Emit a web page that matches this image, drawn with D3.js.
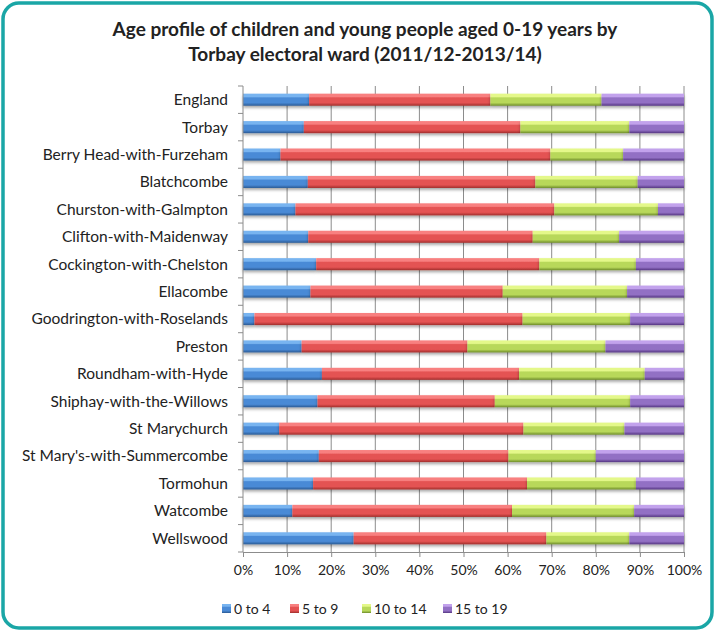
<!DOCTYPE html>
<html>
<head>
<meta charset="utf-8">
<script src="https://cdn.jsdelivr.net/npm/d3@7"></script>
<style>
  body { margin: 0; background: #fff; }
  text { font-family: Lato, "Open Sans", sans-serif; fill: #222; }
</style>
</head>
<body>
<div id="chart"></div>
<script>
// chart data
const wards = ["England", "Torbay", "Berry Head-with-Furzeham", "Blatchcombe", "Churston-with-Galmpton",
  "Clifton-with-Maidenway", "Cockington-with-Chelston", "Ellacombe", "Goodrington-with-Roselands",
  "Preston", "Roundham-with-Hyde", "Shiphay-with-the-Willows", "St Marychurch",
  "St Mary's-with-Summercombe", "Tormohun", "Watcombe", "Wellswood"];
const ageGroups = ["0 to 4", "5 to 9", "10 to 14", "15 to 19"];
const age0to4 = [15.0, 13.8, 8.5, 14.7, 11.9, 14.8, 16.6, 15.3, 2.6, 13.3, 17.9, 16.9, 8.2, 17.2, 15.9, 11.2, 25.1];
const age5to9 = [41.1, 49.1, 61.2, 51.6, 58.7, 50.9, 50.6, 43.6, 60.8, 37.6, 44.7, 40.2, 55.4, 43.0, 48.5, 49.8, 43.7];
const age10to14 = [25.2, 24.7, 16.5, 23.2, 23.5, 19.6, 21.9, 28.2, 24.4, 31.3, 28.5, 30.7, 22.9, 19.8, 24.7, 27.7, 18.8];
const age15to19 = [18.7, 12.4, 13.8, 10.5, 5.9, 14.7, 10.9, 12.9, 12.2, 17.8, 8.9, 12.2, 13.5, 20.0, 10.9, 11.3, 12.4];
const tickValues = [0, 10, 20, 30, 40, 50, 60, 70, 80, 90, 100];

const width = 716, height = 633;
const margin = { top: 86, right: 32, bottom: 81, left: 243 };

const svg = d3.select("#chart").append("svg")
  .attr("width", width)
  .attr("height", height);

// colour ramps per series: light top, body, dark bottom
const palette = [
  { light: "#78b4f0", mid: "#4a8ad6", dark: "#2a5a94" },
  { light: "#f88080", mid: "#e45252", dark: "#a02e2c" },
  { light: "#e4f88a", mid: "#b8d85a", dark: "#6e8c2a" },
  { light: "#c2a2ec", mid: "#9270c4", dark: "#553682" }
];

const defs = svg.append("defs");
palette.forEach((p, i) => {
  const g = defs.append("linearGradient")
    .attr("id", "grad" + i)
    .attr("x1", 0).attr("x2", 0).attr("y1", 0).attr("y2", 1);
  g.append("stop").attr("offset", "0%").attr("stop-color", p.light);
  g.append("stop").attr("offset", "25%").attr("stop-color", p.light);
  g.append("stop").attr("offset", "35%").attr("stop-color", p.mid);
  g.append("stop").attr("offset", "75%").attr("stop-color", p.mid);
  g.append("stop").attr("offset", "100%").attr("stop-color", p.dark);
});
const shadow = defs.append("filter").attr("id", "shadow")
  .attr("x", "-5%").attr("y", "-50%").attr("width", "110%").attr("height", "200%");
shadow.append("feDropShadow")
  .attr("dx", 0).attr("dy", 2).attr("stdDeviation", 1.5)
  .attr("flood-color", "#000").attr("flood-opacity", 0.35);

// frame
svg.append("rect")
  .attr("x", 3).attr("y", 3)
  .attr("width", 709).attr("height", 625)
  .attr("rx", 16)
  .attr("fill", "#fff")
  .attr("stroke", "#1aa6a6")
  .attr("stroke-width", 3.5);

// title
svg.append("text")
  .attr("x", 365).attr("y", 36)
  .attr("text-anchor", "middle")
  .style("font-size", "19px").style("font-weight", "bold")
  .text("Age profile of children and young people aged 0-19 years by");
svg.append("text")
  .attr("x", 365).attr("y", 61)
  .attr("text-anchor", "middle")
  .style("font-size", "19px").style("font-weight", "bold")
  .text("Torbay electoral ward (2011/12-2013/14)");

const innerWidth = width - margin.left - margin.right;
const innerHeight = height - margin.top - margin.bottom;

const x = d3.scaleLinear().domain([0, 100]).range([0, innerWidth]);
const y = d3.scaleBand().domain(wards).range([0, innerHeight]).paddingInner(0.56).paddingOuter(0.28);

const g = svg.append("g").attr("transform", `translate(${margin.left},${margin.top})`);

// vertical gridlines
g.append("g").selectAll("line")
  .data(tickValues.slice(1))
  .join("line")
  .attr("x1", d => x(d)).attr("x2", d => x(d))
  .attr("y1", 0).attr("y2", innerHeight)
  .attr("stroke", "#8c8c8c").attr("stroke-width", 1);

// stacked data
const rows = wards.map((w, i) => ({
  ward: w,
  "0 to 4": age0to4[i], "5 to 9": age5to9[i], "10 to 14": age10to14[i], "15 to 19": age15to19[i]
}));
const series = d3.stack().keys(ageGroups)(rows);

const bandY = d => y(d.data.ward);
g.append("g").selectAll("g")
  .data(series)
  .join("g")
  .attr("fill", (d, i) => `url(#grad${i})`)
  .attr("filter", "url(#shadow)")
  .selectAll("rect")
  .data(d => d)
  .join("rect")
  .attr("x", d => x(d[0]))
  .attr("y", bandY)
  .attr("width", d => x(d[1]) - x(d[0]))
  .attr("height", y.bandwidth());

// axes
const xAxis = g.append("g")
  .attr("transform", `translate(0,${innerHeight})`)
  .call(d3.axisBottom(x).tickValues(tickValues).tickFormat(d => d + "%").tickSize(5).tickSizeOuter(0));
xAxis.select(".domain").attr("stroke", "#8c8c8c");
xAxis.selectAll(".tick line").attr("stroke", "#8c8c8c");
xAxis.selectAll(".tick text").attr("dy", "1.1em").style("font-size", "14px")
  .style("font-family", "Lato, 'Open Sans', sans-serif").attr("fill", "#222");

// left axis: ticks sit on band boundaries
const yAxisG = g.append("g");
yAxisG.append("line")
  .attr("x1", 0).attr("x2", 0).attr("y1", 0).attr("y2", innerHeight)
  .attr("stroke", "#8c8c8c");
const step = y.step();
yAxisG.selectAll("line.tk")
  .data(d3.range(wards.length + 1))
  .join("line").attr("class", "tk")
  .attr("x1", -5).attr("x2", 0)
  .attr("y1", i => i * step).attr("y2", i => i * step)
  .attr("stroke", "#8c8c8c");
yAxisG.selectAll("text")
  .data(wards)
  .join("text")
  .attr("x", -15)
  .attr("y", d => y(d) + y.bandwidth() / 2)
  .attr("dy", "0.35em")
  .attr("text-anchor", "end")
  .style("font-size", "15.5px")
  .text(d => d);

// legend
const legendX = [222, 290, 362, 443];
const legend = svg.append("g").attr("transform", "translate(0,609)");
ageGroups.forEach((k, i) => {
  legend.append("rect")
    .attr("x", legendX[i]).attr("y", -5)
    .attr("width", 9).attr("height", 9)
    .attr("fill", `url(#grad${i})`);
  legend.append("text")
    .attr("x", legendX[i] + 12).attr("y", 0)
    .attr("dy", "0.35em")
    .style("font-size", "14px")
    .text(k);
});
</script>
</body>
</html>
